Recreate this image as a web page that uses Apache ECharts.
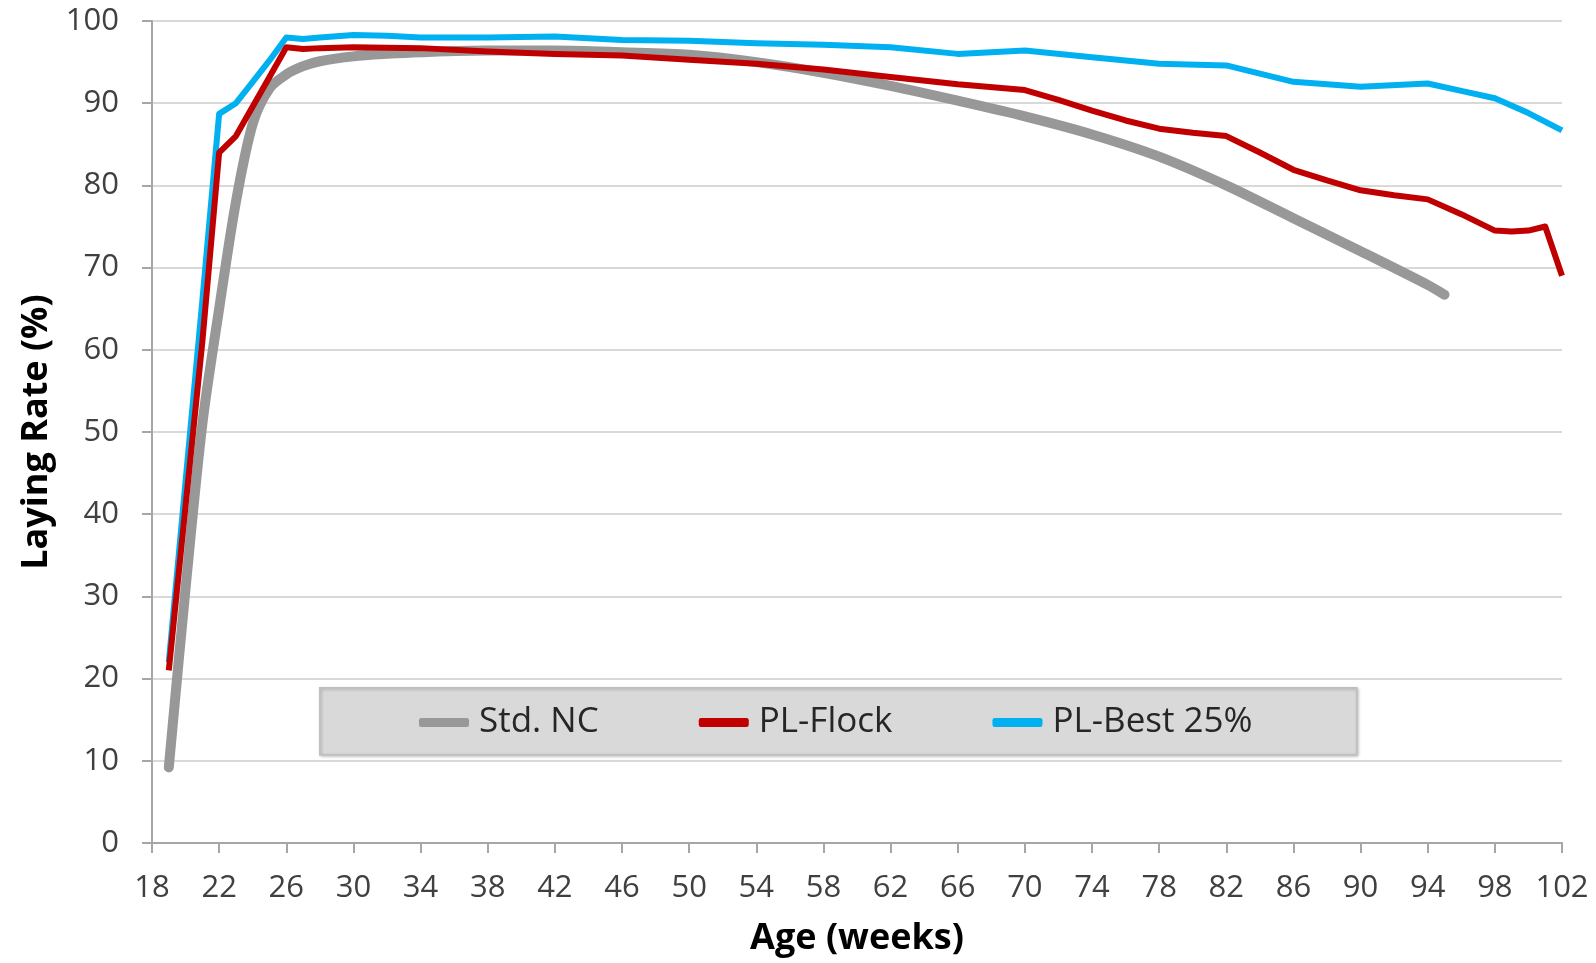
<!DOCTYPE html>
<html>
<head>
<meta charset="utf-8">
<script src="https://cdn.jsdelivr.net/npm/echarts@6/dist/echarts.min.js"></script>
<style>
html,body{margin:0;padding:0;background:#fff;}
#chart{width:1596px;height:963px;}
</style>
</head>
<body>
<div id="chart"></div>
<script>
// ---- data ----
const seriesNames = ['Std. NC', 'PL-Flock', 'PL-Best 25%'];
const xTickStart = 18, xTickEnd = 102, xTickStep = 4;
const yTicks = [0, 10, 20, 30, 40, 50, 60, 70, 80, 90, 100];

const stdWeeks = [19, 20, 21, 22, 23, 24, 25, 26, 27, 28, 30, 32, 34, 38, 42, 46, 50, 54, 58, 62, 66, 70, 74, 78, 82, 86, 90, 94, 95];
const stdNC    = [9.2, 31, 51, 65, 78, 87.5, 91.8, 93.5, 94.5, 95.1, 95.7, 96.0, 96.2, 96.4, 96.4, 96.2, 95.9, 95.0, 93.7, 92.1, 90.3, 88.4, 86.2, 83.5, 80.0, 76.0, 72.0, 67.9, 66.7];

const flockWeeks = [19, 20, 21, 22, 23, 24, 25, 26, 27, 28, 30, 34, 38, 42, 46, 50, 54, 58, 62, 66, 70, 72, 74, 76, 78, 80, 82, 84, 86, 88, 90, 92, 94, 96, 98, 99, 100, 101, 102];
const plFlock    = [21, 41, 61, 84, 86, 89.6, 93.2, 96.8, 96.6, 96.7, 96.8, 96.7, 96.3, 96.0, 95.8, 95.3, 94.8, 94.1, 93.2, 92.3, 91.6, 90.4, 89.1, 87.9, 86.9, 86.4, 86.0, 84.0, 81.9, 80.6, 79.4, 78.8, 78.3, 76.5, 74.5, 74.4, 74.5, 75.0, 69.0];

const bestWeeks = [19, 20, 21, 22, 23, 24, 25, 26, 27, 28, 30, 32, 34, 38, 42, 46, 50, 54, 58, 62, 66, 68, 70, 74, 78, 82, 84, 86, 90, 94, 96, 98, 100, 102];
const plBest    = [22, 44, 66, 88.7, 90.0, 92.6, 95.2, 98.0, 97.8, 98.0, 98.3, 98.2, 98.0, 98.0, 98.1, 97.7, 97.6, 97.3, 97.1, 96.8, 96.0, 96.2, 96.4, 95.6, 94.8, 94.6, 93.6, 92.6, 92.0, 92.4, 91.5, 90.6, 88.8, 86.7];

// x axis is drawn as offset from the first tick so ticks land on 18, 22, ... 102
const pairs = (ws, vs) => ws.map((w, i) => [w - xTickStart, vs[i]]);

const chart = echarts.init(document.getElementById('chart'), null, {renderer: 'canvas'});
const FONT = '"Open Sans", "Liberation Sans", sans-serif';

chart.setOption({
  backgroundColor: '#ffffff',
  animation: false,
  grid: {left: 152, right: 34, top: 21, bottom: 120, containLabel: false},
  graphic: [{
    type: 'rect',
    left: 319, top: 687,
    shape: {width: 1037, height: 67},
    style: {fill: '#d9d9d9', stroke: '#bfbfbf', lineWidth: 1.5,
            shadowBlur: 3, shadowColor: 'rgba(0,0,0,0.25)', shadowOffsetX: 1, shadowOffsetY: 1},
    z: 50
  }],
  legend: {
    data: seriesNames,
    left: 414, top: 700,
    itemWidth: 50, itemHeight: 9,
    itemGap: 100,
    icon: 'roundRect',
    textStyle: {fontFamily: FONT, fontSize: 35, color: '#262626', padding: [0, 0, 0, 5]},
    z: 60
  },
  xAxis: {
    type: 'value',
    min: 0, max: xTickEnd - xTickStart, interval: xTickStep,
    name: 'Age (weeks)', nameLocation: 'middle', nameGap: 78,
    nameTextStyle: {fontFamily: FONT, fontSize: 36, fontWeight: 'bold', color: '#000'},
    axisLine: {lineStyle: {color: '#a6a6a6', width: 2}},
    axisTick: {show: true, length: 10, lineStyle: {color: '#a6a6a6', width: 2}},
    axisLabel: {margin: 30, fontFamily: FONT, fontSize: 31, color: '#404040',
                formatter: v => String(v + xTickStart)},
    splitLine: {show: false}
  },
  yAxis: {
    type: 'value',
    min: yTicks[0], max: yTicks[yTicks.length - 1], interval: yTicks[1] - yTicks[0],
    name: 'Laying Rate (%)', nameLocation: 'middle', nameRotate: 90, nameGap: 97,
    nameTextStyle: {fontFamily: FONT, fontSize: 36, fontWeight: 'bold', color: '#000'},
    axisLine: {show: true, lineStyle: {color: '#a6a6a6', width: 2}},
    axisTick: {show: true, length: 10, lineStyle: {color: '#a6a6a6', width: 2}},
    axisLabel: {margin: 33, fontFamily: FONT, fontSize: 31, color: '#404040'},
    splitLine: {show: true, lineStyle: {color: '#d9d9d9', width: 2}}
  },
  series: [
    {name: seriesNames[0], type: 'line', data: pairs(stdWeeks, stdNC), showSymbol: false,
     smooth: 0.3, z: 2, color: '#989898',
     lineStyle: {width: 10, color: '#989898', cap: 'round', join: 'round'}},
    {name: seriesNames[2], type: 'line', data: pairs(bestWeeks, plBest), showSymbol: false,
     z: 3, color: '#00b0f0',
     lineStyle: {width: 6, color: '#00b0f0', join: 'round'}},
    {name: seriesNames[1], type: 'line', data: pairs(flockWeeks, plFlock), showSymbol: false,
     z: 4, color: '#c00000',
     lineStyle: {width: 6, color: '#c00000', join: 'round'}}
  ]
});
</script>
</body>
</html>
